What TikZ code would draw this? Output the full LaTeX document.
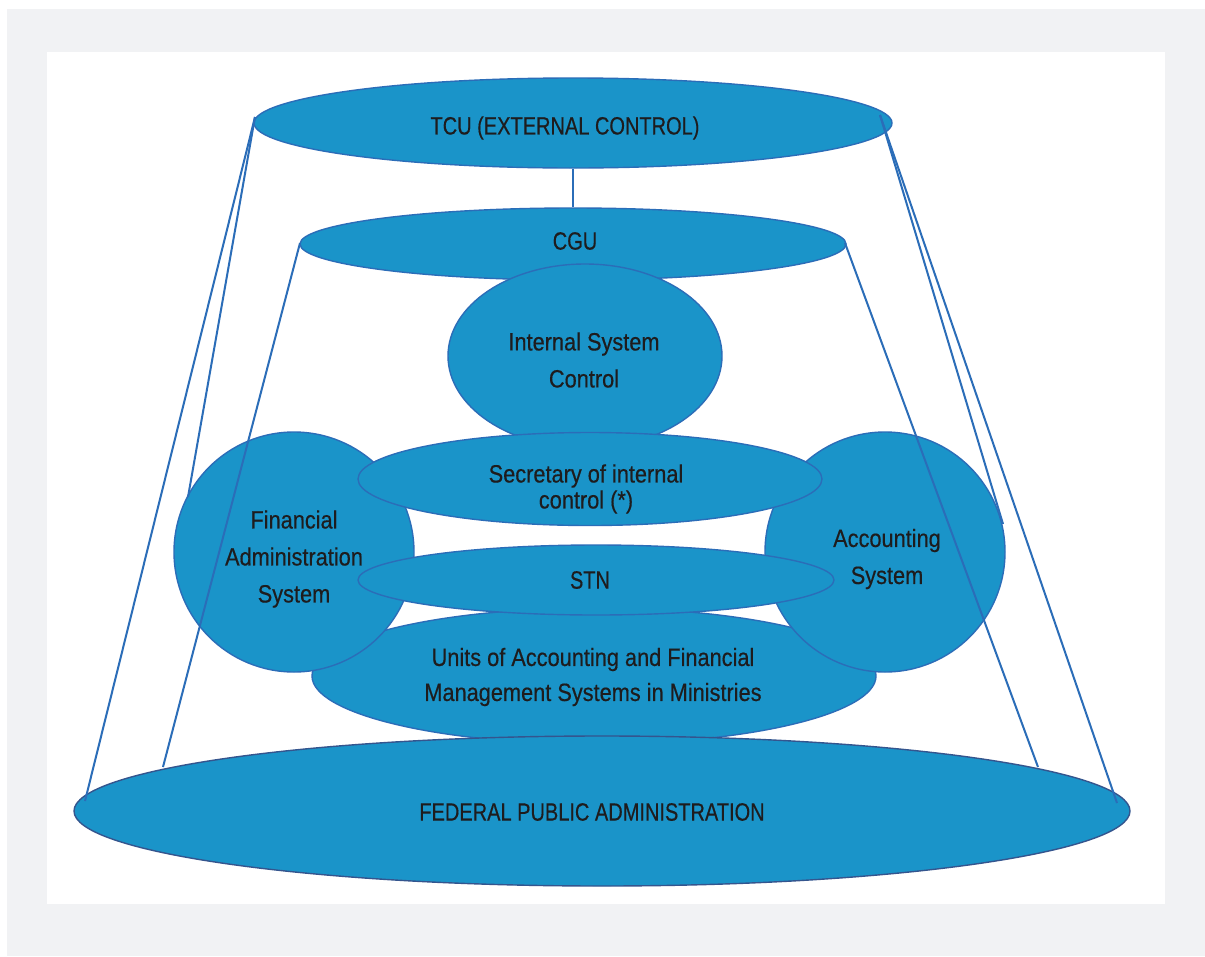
\documentclass[tikz,border=0pt]{standalone}
\usepackage{fontspec}
\setmainfont{Liberation Sans}[FakeStretch=0.87,FakeBold=0.4]
\newfontfamily\capsfont{Liberation Sans}[FakeStretch=0.80,FakeBold=0.4]
\usetikzlibrary{shapes.geometric}
\definecolor{bggray}{HTML}{F1F2F4}
\definecolor{blobfill}{HTML}{1A94C9}
\definecolor{blobline}{HTML}{2B6DB8}
\definecolor{darkline}{HTML}{34558E}
\definecolor{txt}{HTML}{1E1C1D}
\tikzset{
  blob/.style={ellipse, fill=blobfill, draw=blobline, line width=1.4pt, inner sep=0pt},
  lbl/.style={inner sep=0pt, align=center, text=txt, font=\fontsize{25}{37}\selectfont},
  conn/.style={draw=blobline, line width=2pt},
}
\begin{document}
\begin{tikzpicture}[x=1pt,y=-1pt]
\useasboundingbox (0,0) rectangle (1205,956);
\fill[white] (0,0) rectangle (1205,956);
\fill[bggray] (7,9) rectangle (1205,956);
\fill[white] (47,52) rectangle (1165,904);

\node[blob, minimum width=638pt, minimum height=90pt] (tcu) at (573,123) {};
\node[lbl, font=\capsfont\fontsize{25}{37}\selectfont] (tcut) at (565,128) {TCU (EXTERNAL CONTROL)};
\node[blob, minimum width=546pt, minimum height=72pt] (cgu) at (573,244) {};
\node[lbl, font=\capsfont\fontsize{25}{37}\selectfont] (cgut) at (575,241) {CGU};
\node[blob, minimum width=274pt, minimum height=184pt] (isc) at (585,356) {};
\node[lbl] (isct) at (584,360) {Internal System\\Control};
\node[blob, minimum width=564pt, minimum height=136pt] (units) at (594,676) {};
\node[lbl, font=\fontsize{25}{35}\selectfont] (unitst) at (593,677) {Units of Accounting and Financial\\Management Systems in Ministries};
\node[blob, draw=darkline, minimum width=1056pt, minimum height=150pt] (fpa) at (602,811) {};
\node[lbl, font=\capsfont\fontsize{25}{37}\selectfont] (fpat) at (592,812) {FEDERAL PUBLIC ADMINISTRATION};
\node[blob, minimum width=240pt, minimum height=240pt] (fin) at (294,552) {};
\node[lbl] (fint) at (294,559) {Financial\\Administration\\System};
\node[blob, minimum width=240pt, minimum height=240pt] (acc) at (885,552) {};
\node[lbl] (acct) at (887,559) {Accounting\\System};
\node[blob, minimum width=464pt, minimum height=93pt] (sec) at (590,479) {};
\node[lbl, font=\fontsize{25}{26}\selectfont] (sect) at (586,489) {Secretary of internal\\control (*)};
\node[blob, minimum width=476pt, minimum height=70pt] (stn) at (596,580) {};
\node[lbl, font=\capsfont\fontsize{25}{37}\selectfont] (stnt) at (590,580) {STN};

\coordinate (tl) at (255,117);
\coordinate (tr) at (880,115);
\coordinate (cl) at (300,243);
\coordinate (cr) at (845,243);
\coordinate (bl) at (85,801);
\coordinate (br) at (1117,803);
\coordinate (ml) at (163,767);
\coordinate (mr) at (1038,767);
\coordinate (fl) at (188,497);
\coordinate (ar) at (1003,524);

\draw[conn] (tcu.south) -- (cgu.north);
\draw[conn] (tl) -- (bl);
\draw[conn] (tl) -- (fl);
\draw[conn] (tr) -- (br);
\draw[conn] (tr) -- (ar);
\draw[conn] (cl) -- (ml);
\draw[conn] (cr) -- (mr);
\end{tikzpicture}
\end{document}
